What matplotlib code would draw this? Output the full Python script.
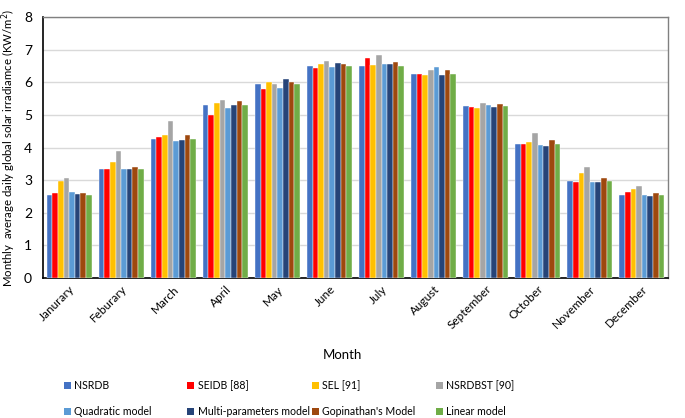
import matplotlib.pyplot as plt
import numpy as np
from matplotlib.patches import Patch

plt.rcParams['font.family'] = ['Lato', 'DejaVu Sans']

months = ['Janurary', 'Feburary', 'March', 'April', 'May', 'June', 'July',
          'August', 'September', 'October', 'November', 'December']

# monthly average daily global solar irradiance (kW/m2)
nsrdb = [2.56, 3.33, 4.26, 5.31, 5.95, 6.50, 6.50, 6.27, 5.26, 4.11, 2.98, 2.53]
seidb = [2.61, 3.35, 4.31, 5.00, 5.79, 6.44, 6.74, 6.27, 5.25, 4.11, 2.95, 2.63]
sel = [2.96, 3.57, 4.37, 5.37, 6.00, 6.57, 6.53, 6.22, 5.21, 4.18, 3.21, 2.72]
nsrdbst = [3.08, 3.88, 4.80, 5.47, 5.95, 6.66, 6.83, 6.39, 5.38, 4.46, 3.40, 2.83]
quadratic = [2.65, 3.33, 4.20, 5.22, 5.83, 6.47, 6.55, 6.46, 5.29, 4.07, 2.95, 2.54]
multi = [2.57, 3.33, 4.24, 5.31, 6.09, 6.59, 6.55, 6.22, 5.24, 4.04, 2.95, 2.50]
gopinathan = [2.61, 3.41, 4.38, 5.43, 6.00, 6.56, 6.61, 6.39, 5.35, 4.22, 3.07, 2.60]
linear = [2.56, 3.33, 4.25, 5.31, 5.95, 6.50, 6.50, 6.27, 5.26, 4.11, 2.98, 2.53]

series = [
    ('NSRDB', nsrdb, '#4472C4'),
    ('SEIDB [88]', seidb, '#FF0000'),
    ('SEL [91]', sel, '#FFC000'),
    ('NSRDBST [90]', nsrdbst, '#A5A5A5'),
    ('Quadratic model', quadratic, '#5B9BD5'),
    ('Multi-parameters model', multi, '#264478'),
    ("Gopinathan's Model", gopinathan, '#9E480E'),
    ('Linear model', linear, '#70AD47'),
]

fig = plt.figure(figsize=(6.85, 4.18), dpi=100)
ax = fig.add_axes([0.063, 0.335, 0.912, 0.624])

x = np.arange(len(months))
n = len(series)
width = 0.108
for i, (name, vals, color) in enumerate(series):
    offset = (i - (n - 1) / 2) * width
    ax.bar(x + offset, vals, width, color=color, edgecolor='white',
           linewidth=0.3, label=name, zorder=3)

ax.set_xlim(-0.5, len(months) - 0.5)
ax.set_ylim(0, 8)
ax.set_yticks(range(0, 9))
ax.yaxis.grid(True, color='#d9d9d9', linewidth=1, zorder=0)
ax.tick_params(axis='y', length=0, labelsize=10, pad=8)
ax.tick_params(axis='x', length=0, labelsize=8.5, pad=4)
ax.set_xticks(x)
ax.set_xticklabels(months, rotation=45, ha='right', rotation_mode='anchor')

for side in ['left', 'bottom']:
    ax.spines[side].set_color('black')
    ax.spines[side].set_linewidth(1.2)
for side in ['top', 'right']:
    ax.spines[side].set_color('#808080')
    ax.spines[side].set_linewidth(1.0)

ax.set_ylabel('Monthly  average daily global solar irradiamce (KW/m$^2$)',
              fontsize=8.2)
ax.yaxis.set_label_coords(-0.041, 0.5)
fig.text(0.5, 0.15, 'Month', ha='center', va='center', fontsize=9.5)

# legend laid out like the original: 4 equal columns, 2 rows
col_x = [0.093, 0.273, 0.455, 0.636]
for c in range(4):
    items = [series[c], series[c + 4]]
    handles = [Patch(facecolor=s[2], edgecolor='none') for s in items]
    fig.legend(handles, [s[0] for s in items], loc='upper left',
               bbox_to_anchor=(col_x[c], 0.091), frameon=False,
               fontsize=7.6, handlelength=0.7, handleheight=0.7,
               handletextpad=0.3, labelspacing=1.45, borderaxespad=0,
               borderpad=0)

fig.savefig('out.png', dpi=100)
